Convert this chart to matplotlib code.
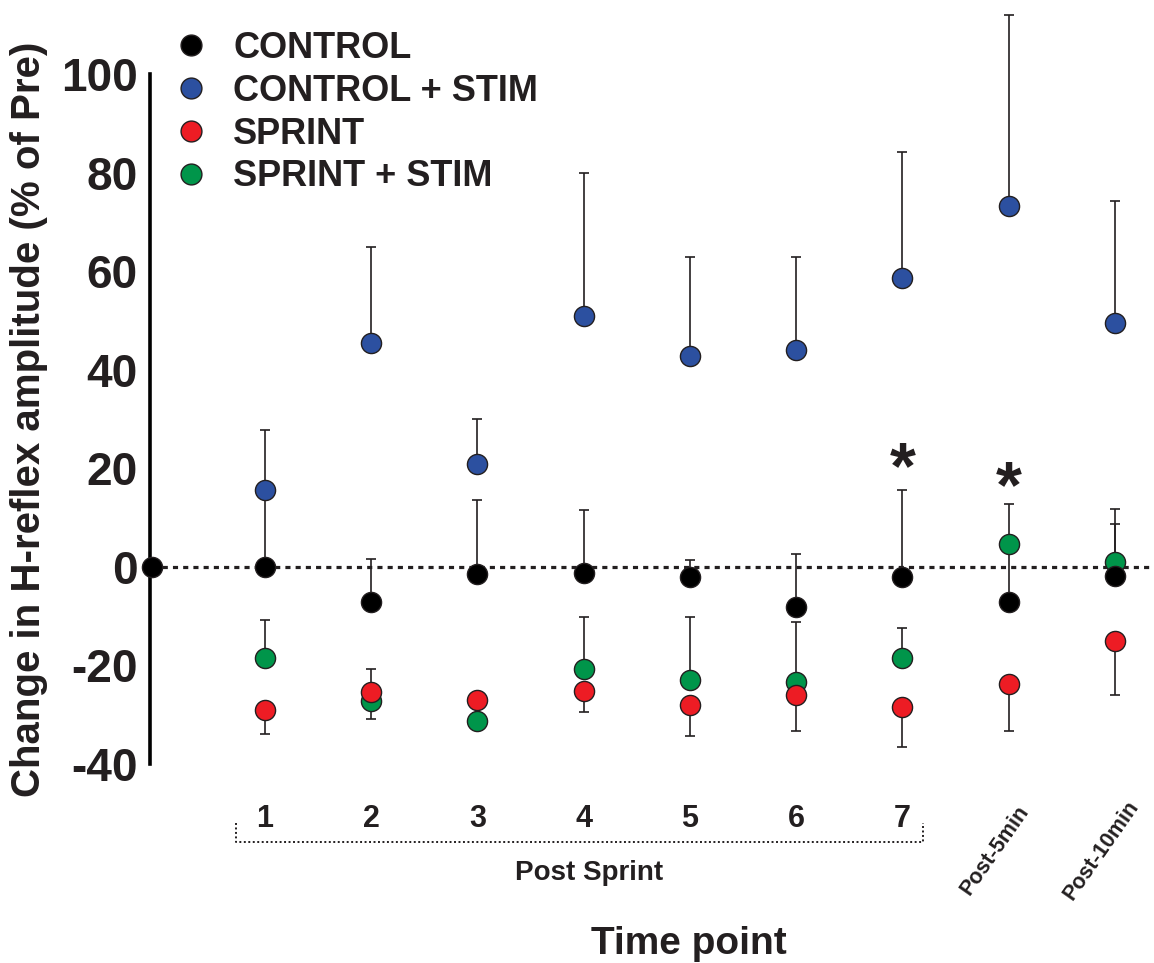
import matplotlib
matplotlib.use('Agg')
import matplotlib.pyplot as plt
from matplotlib.transforms import blended_transform_factory, offset_copy
from matplotlib.lines import Line2D
import numpy as np

plt.rcParams['font.family'] = ['Liberation Sans', 'DejaVu Sans']

# ---------------- data ----------------
timepoints = ['1', '2', '3', '4', '5', '6', '7', 'Post-5min', 'Post-10min']
x_main = [1, 2, 3, 4, 5, 6, 7, 8, 9]
pre_x = -0.06
pre_value = 0.0

control = [0.0, -7.1, -1.4, -1.3, -2.0, -8.1, -2.0, -7.2, -1.8]
control_err = [15.4, 8.7, 15.0, 12.9, 3.3, 10.7, 17.6, 11.5, 10.5]

control_stim = [15.6, 45.4, 20.8, 50.9, 42.8, 44.0, 58.6, 73.2, 49.5]
control_stim_err = [12.2, 19.5, 9.2, 29.0, 20.1, 18.9, 25.6, 38.8, 24.7]

sprint = [-29.0, -25.4, -27.0, -25.1, -28.1, -26.1, -28.5, -23.7, -15.1]
sprint_err = [4.9, 5.4, 1.5, 4.3, 6.2, 7.2, 8.1, 9.7, 10.8]

sprint_stim = [-18.4, -27.3, -31.2, -20.8, -22.9, -23.4, -18.4, 4.7, 0.9]
sprint_stim_err = [7.7, 6.6, 1.5, 10.7, 12.8, 12.3, 5.9, 8.1, 10.9]

sig_x = [7, 8]
sig_y = [19.4, 15.6]

series_labels = ['CONTROL', 'CONTROL + STIM', 'SPRINT', 'SPRINT + STIM']
colors = ['#000000', '#2C50A0', '#ED1C24', '#00954A']
ink = '#231F20'

# ---------------- figure ----------------
fig = plt.figure(figsize=(11.54, 9.63), dpi=100)
ax = fig.add_axes([150 / 1154, 199 / 963, 1004 / 1154, 764 / 963])
xl, xr = -0.082, 9.367
ax.set_xlim(xl, xr)
ax.set_ylim(-40, 115)

# zero dotted line
ax.axhline(0, xmin=(pre_x - xl) / (xr - xl), xmax=1, color=ink, lw=2.3,
           linestyle=(0, (1.6, 1.6)), dash_capstyle='butt', zorder=1)

ms = 14.5
def up(err):
    return [np.zeros(len(err)), np.array(err)]
def down(err):
    return [np.array(err), np.zeros(len(err))]

eb_kw = dict(fmt='none', ecolor=ink, elinewidth=1.2, capsize=3.8, capthick=1.2, zorder=2)
ax.errorbar(x_main, control, yerr=up(control_err), **eb_kw)
ax.errorbar(x_main, control_stim, yerr=up(control_stim_err), **eb_kw)
ax.errorbar(x_main, sprint, yerr=down(sprint_err), **eb_kw)
ax.errorbar(x_main, sprint_stim, yerr=up(sprint_stim_err), **eb_kw)

mk_kw = dict(linestyle='none', marker='o', ms=ms, mec=ink, mew=1.0)
ax.plot(x_main, control_stim, mfc=colors[1], zorder=3, **mk_kw)
ax.plot(x_main, sprint_stim, mfc=colors[3], zorder=4, **mk_kw)
ax.plot(x_main, sprint, mfc=colors[2], zorder=5, **mk_kw)
ax.plot(x_main, control, mfc=colors[0], zorder=6, **mk_kw)
ax.plot([pre_x], [pre_value], mfc=colors[0], zorder=7, clip_on=False, **mk_kw)

# significance asterisks
for sx, sy in zip(sig_x, sig_y):
    ax.text(sx, sy, '*', ha='center', va='center', fontsize=48,
            fontweight='bold', color=ink, zorder=8)

# spines
for s in ['top', 'right', 'bottom']:
    ax.spines[s].set_visible(False)
ax.spines['left'].set_linewidth(2.6)
ax.spines['left'].set_color('#000000')
ax.spines['left'].set_bounds(-40, 100)

ax.set_yticks([-40, -20, 0, 20, 40, 60, 80, 100])
ax.set_yticklabels(['-40', '-20', '0', '20', '40', '60', '80', '100'])
ax.tick_params(axis='y', length=0, pad=9, labelsize=33, labelcolor=ink)
for lab in ax.get_yticklabels():
    lab.set_fontweight('bold')

ax.set_xticks(x_main[:7])
ax.set_xticklabels(timepoints[:7])
ax.tick_params(axis='x', length=0, pad=29, labelsize=22, labelcolor=ink)
for lab in ax.get_xticklabels():
    lab.set_fontweight('bold')

trans = blended_transform_factory(ax.transData, ax.transAxes)
for xi, lab in zip(x_main[7:], timepoints[7:]):
    t = offset_copy(trans, fig=fig, x=-14, y=0, units='dots')
    ax.text(xi, -0.1125, lab, transform=t, rotation=55, ha='center', va='center',
            fontsize=15.5, fontweight='bold', color=ink, clip_on=False)

# dotted bracket under 1-7
bx0, bx1 = x_main[0] - 0.27, x_main[6] + 0.19
by0, by1 = -0.1015, -0.0775
ax.plot([bx0, bx0, bx1, bx1], [by1, by0, by0, by1], transform=trans, color=ink,
        lw=1.4, linestyle=(0, (1, 1.3)), clip_on=False)
ax.text(4.05, -0.1427, 'Post Sprint', transform=trans, ha='center', va='center',
        fontsize=20, fontweight='bold', color=ink)

ax.set_xlabel('Time point', fontsize=28, fontweight='bold', color=ink)
ax.xaxis.set_label_coords((689 - 150) / 1004, (764 - 926) / 764)
ax.set_ylabel('Change in H-reflex amplitude (% of Pre)', fontsize=29,
              fontweight='bold', color=ink)
ax.yaxis.set_label_coords((48 - 150) / 1004, (764 - 419) / 764)

# legend
handles = [Line2D([], [], linestyle='none', marker='o', ms=15, mfc=c, mec=ink, mew=1.0)
           for c in colors]
leg = fig.legend(handles, series_labels, loc='upper left',
                 bbox_to_anchor=(173 / 1154, 1 - 31 / 963), frameon=False,
                 fontsize=26, handlelength=1.0, handletextpad=0.67,
                 labelspacing=0.215, borderpad=0, borderaxespad=0, numpoints=1)
for t in leg.get_texts():
    t.set_fontweight('bold')
    t.set_color(ink)

fig.savefig('out.png', dpi=100)
